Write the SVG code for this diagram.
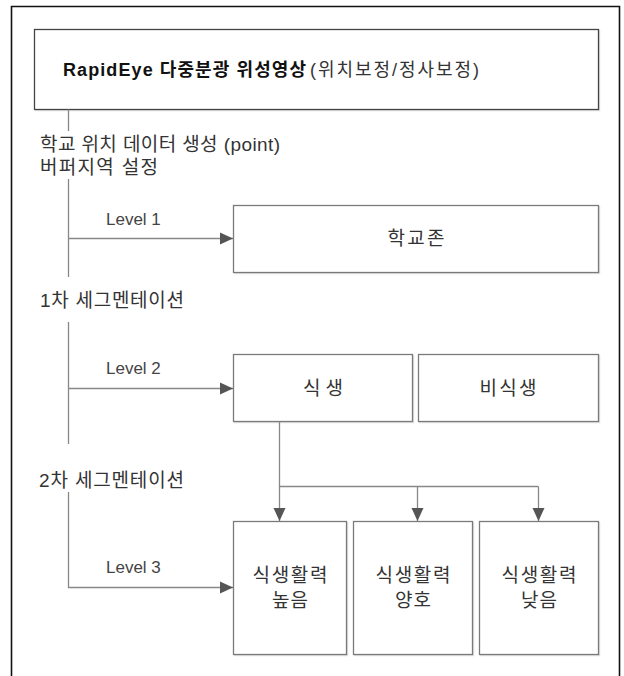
<svg xmlns="http://www.w3.org/2000/svg" width="624" height="676" viewBox="0 0 624 676">
<style>
.box{fill:#fff;stroke:#7a7a7a;stroke-width:1.3}
.shadow{fill:none;stroke:#e2e2e2;stroke-width:1.5}
.t{font-family:"Liberation Sans","Noto Sans CJK KR",sans-serif;fill:#333;font-size:19px}
.c{text-anchor:middle}
.lv{font-family:"Liberation Sans","Noto Sans CJK KR",sans-serif;fill:#444;font-size:17px}
.ln{fill:none;stroke:#888;stroke-width:1.3}
</style>
<defs>
<marker id="ah" markerUnits="userSpaceOnUse" markerWidth="14" markerHeight="13" refX="13" refY="6.5" orient="auto">
<path d="M0,0.5 L13,6.5 L0,12.5 Z" fill="#555"/>
</marker>
</defs>
<rect width="624" height="676" fill="#fff"/>
<path d="M11.5,676 V6.5 H619.5 V676" fill="none" stroke="#111" stroke-width="1.6"/>

<g id="top">
<path class="shadow" d="M599.5,30 V110.5 H35"/>
<rect x="34.5" y="29.5" width="564" height="80" fill="#fff" stroke="#444" stroke-width="1.3"/>
<text x="63" y="76" font-family="'Liberation Sans','Noto Sans CJK KR',sans-serif" font-size="18" font-weight="bold" fill="#111" textLength="243" lengthAdjust="spacing">RapidEye 다중분광 위성영상</text>
<text x="310" y="76" font-family="'Liberation Sans','Noto Sans CJK KR',sans-serif" font-size="18" fill="#333" textLength="169" lengthAdjust="spacing">(위치보정/정사보정)</text>
</g>

<g id="step-labels">
<text class="t" x="40" y="151" textLength="240" lengthAdjust="spacing">학교 위치 데이터 생성 (point)</text>
<text class="t" x="40" y="174" textLength="118" lengthAdjust="spacing">버퍼지역 설정</text>
<text class="t" x="40" y="307" textLength="144" lengthAdjust="spacing">1차 세그멘테이션</text>
<text class="t" x="39" y="487" textLength="145" lengthAdjust="spacing">2차 세그멘테이션</text>
</g>

<g id="level-labels">
<text class="lv" x="106" y="225">Level 1</text>
<text class="lv" x="106" y="374">Level 2</text>
<text class="lv" x="106" y="573">Level 3</text>
</g>

<g id="school-zone">
<path class="shadow" d="M599.5,206 V273.5 H234"/>
<rect class="box" x="233.5" y="205.5" width="365" height="67"/>
<text class="t c" x="416" y="245" textLength="57" lengthAdjust="spacing">학교존</text>
</g>

<g id="vegetation">
<path class="shadow" d="M413.5,355 V422.5 H234"/>
<rect class="box" x="233.5" y="354.5" width="179" height="67"/>
<text class="t c" x="323" y="395" textLength="40" lengthAdjust="spacing">식생</text>
</g>

<g id="non-vegetation">
<path class="shadow" d="M599.5,355 V422.5 H419"/>
<rect class="box" x="418.5" y="354.5" width="180" height="67"/>
<text class="t c" x="508" y="395" textLength="57" lengthAdjust="spacing">비식생</text>
</g>

<g id="vigor-high">
<path class="shadow" d="M347.5,522 V655.5 H234"/>
<rect class="box" x="233.5" y="521.5" width="113" height="133"/>
<text class="t c" x="290" y="582" textLength="75" lengthAdjust="spacing">식생활력</text>
<text class="t c" x="290" y="607" textLength="36" lengthAdjust="spacing">높음</text>
</g>

<g id="vigor-good">
<path class="shadow" d="M473.5,522 V655.5 H354"/>
<rect class="box" x="353.5" y="521.5" width="119" height="133"/>
<text class="t c" x="413" y="582" textLength="75" lengthAdjust="spacing">식생활력</text>
<text class="t c" x="413" y="607" textLength="36" lengthAdjust="spacing">양호</text>
</g>

<g id="vigor-low">
<path class="shadow" d="M599.5,522 V655.5 H480"/>
<rect class="box" x="479.5" y="521.5" width="119" height="133"/>
<text class="t c" x="539" y="582" textLength="75" lengthAdjust="spacing">식생활력</text>
<text class="t c" x="539" y="607" textLength="36" lengthAdjust="spacing">낮음</text>
</g>

<g id="connectors">
<path class="ln" d="M68.5,109.5 V131"/>
<path class="ln" d="M68.5,179 V277"/>
<path class="ln" d="M68.5,322 V444"/>
<path class="ln" d="M68.5,238.5 H233" marker-end="url(#ah)"/>
<path class="ln" d="M68.5,388.5 H233" marker-end="url(#ah)"/>
<path class="ln" d="M68.5,492 V587.5 H233" marker-end="url(#ah)"/>
<path class="ln" d="M279.5,421.5 V486.5 H538.5"/>
<path class="ln" d="M279.5,486.5 V521" marker-end="url(#ah)"/>
<path class="ln" d="M417.5,486.5 V521" marker-end="url(#ah)"/>
<path class="ln" d="M538.5,486.5 V521" marker-end="url(#ah)"/>
</g>
</svg>
